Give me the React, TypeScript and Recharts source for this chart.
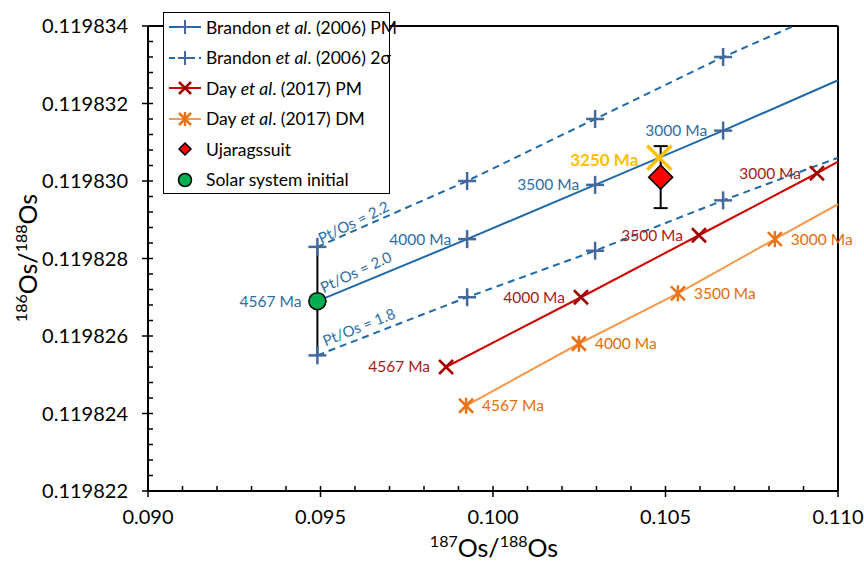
import React from 'react';
import { ScatterChart, Scatter, XAxis, YAxis, ErrorBar, ReferenceLine } from 'recharts';

const FONT = 'Lato, "Open Sans", sans-serif';

// model ages marked along each growth curve (last point = where the curve leaves the plot)
const AGES = ['4567 Ma', '4000 Ma', '3500 Ma', '3000 Ma'];

// Brandon et al. (2006) primitive mantle, Pt/Os = 2.0
const brandonPmX = [0.09491, 0.09925, 0.10296, 0.10667, 0.110];
const brandonPmY = [0.1198269, 0.1198285, 0.1198299, 0.1198313, 0.1198326];
// 2 sigma envelope, Pt/Os = 2.2
const brandonHiX = [0.09491, 0.09925, 0.10296, 0.10667, 0.110];
const brandonHiY = [0.1198283, 0.11983, 0.1198316, 0.1198332, 0.1198345];
// 2 sigma envelope, Pt/Os = 1.8
const brandonLoX = [0.09491, 0.09925, 0.10296, 0.10667, 0.110];
const brandonLoY = [0.1198255, 0.119827, 0.1198282, 0.1198295, 0.1198306];

// Day et al. (2017)
const dayPmX = [0.09864, 0.10255, 0.10597, 0.10939, 0.110];
const dayPmY = [0.1198252, 0.119827, 0.1198286, 0.1198302, 0.1198305];
const dayDmX = [0.09922, 0.10249, 0.10536, 0.10817, 0.110];
const dayDmY = [0.1198242, 0.1198258, 0.1198271, 0.1198285, 0.1198294];

// samples
const ujaragX = [0.10486];
const ujaragY = [0.1198301];
const ujaragErr = [0.0000008];
const modelX = [0.10482];
const modelY = [0.1198306];
const modelLabel = ['3250 Ma'];
const solarX = [0.09491];
const solarY = [0.1198269];
const solarErr = [0.0000014];

const X_MAJOR = [0.09, 0.095, 0.1, 0.105, 0.11];
const X_TICKS = [
  0.09, 0.091, 0.092, 0.093, 0.094, 0.095, 0.096, 0.097, 0.098, 0.099, 0.1,
  0.101, 0.102, 0.103, 0.104, 0.105, 0.106, 0.107, 0.108, 0.109, 0.11,
];
const Y_MAJOR = [0.119822, 0.119824, 0.119826, 0.119828, 0.11983, 0.119832, 0.119834];
const Y_TICKS = Y_MAJOR.flatMap((v, i) =>
  i < Y_MAJOR.length - 1 ? [0, 1, 2, 3, 4].map((k) => v + k * 0.0000004) : [v]
);

const BLUE = '#1F69A8';
const PLUS = '#44699C';
const BLUE_TXT = '#2E6DA4';
const RED = '#CC0000';
const XRED = '#A00000';
const RED_TXT = '#A51C1C';
const ORANGE = '#F79A4B';
const STAR = '#E8741A';
const ORANGE_TXT = '#E46C0A';

const toPoints = (xs: number[], ys: number[], labels: string[] = [], errs: number[] = []) =>
  xs.map((x, i) => ({ x, y: ys[i], label: labels[i], err: errs[i] }));

const isMajor = (v: number, majors: number[]) => majors.some((m) => Math.abs(m - v) < 1e-9);

const plus = (cx: number, cy: number, s = 9, w = 2.5) => (
  <g stroke={PLUS} strokeWidth={w}>
    <line x1={cx - s} x2={cx + s} y1={cy} y2={cy} />
    <line x1={cx} x2={cx} y1={cy - s} y2={cy + s} />
  </g>
);
const cross = (cx: number, cy: number, s = 7, color = XRED, w = 2.5) => (
  <g stroke={color} strokeWidth={w}>
    <line x1={cx - s} x2={cx + s} y1={cy - s} y2={cy + s} />
    <line x1={cx - s} x2={cx + s} y1={cy + s} y2={cy - s} />
  </g>
);
const star = (cx: number, cy: number, s = 7) => (
  <g stroke={STAR} strokeWidth={2.5}>
    <line x1={cx - s} x2={cx + s} y1={cy - s} y2={cy + s} />
    <line x1={cx - s} x2={cx + s} y1={cy + s} y2={cy - s} />
    <line x1={cx} x2={cx} y1={cy - s - 1} y2={cy + s + 1} />
  </g>
);
const diamond = (cx: number, cy: number, s = 12) => (
  <polygon
    points={`${cx},${cy - s} ${cx + s},${cy} ${cx},${cy + s} ${cx - s},${cy}`}
    fill="#FF0000"
    stroke="#000"
    strokeWidth={1.5}
  />
);
const circle = (cx: number, cy: number, r = 8.5) => (
  <circle cx={cx} cy={cy} r={r} fill="#00B050" stroke="#000" strokeWidth={1.5} />
);

type ShapeOpts = {
  marker: (cx: number, cy: number) => React.ReactNode;
  labelColor?: string;
  side?: 'left' | 'right';
  note?: { text: string; angle: number; dx: number; dy: number };
};

const seriesShape = (o: ShapeOpts) => (p: any) => {
  const { cx, cy, payload } = p;
  if (!payload || !payload.label) return <g />;
  const first = payload.label === AGES[0];
  return (
    <g>
      {o.marker(cx, cy)}
      {o.labelColor && (
        <text
          x={o.side === 'right' ? cx + 16 : cx - 16}
          y={cy}
          dy="0.35em"
          textAnchor={o.side === 'right' ? 'start' : 'end'}
          fill={o.labelColor}
          fontFamily={FONT}
          fontSize={15.5}
        >
          {payload.label}
        </text>
      )}
      {o.note && first && (
        <text
          x={cx + o.note.dx}
          y={cy + o.note.dy}
          transform={`rotate(${o.note.angle} ${cx + o.note.dx} ${cy + o.note.dy})`}
          fill={BLUE_TXT}
          fontFamily={FONT}
          fontSize={15}
        >
          {o.note.text}
        </text>
      )}
    </g>
  );
};

// tick renderer draws both the mark (inside; majors cross the axis) and the label
function XTick(p: any) {
  const x = Number(p.x);
  const y = Number(p.y);
  const major = isMajor(p.payload.value, X_MAJOR);
  return (
    <g>
      <rect x={x - 0.75} y={y - 5} width={1.5} height={major ? 11 : 5} fill="#000" />
      {major && (
        <text x={x} y={y + 33} textAnchor="middle" fontFamily={FONT} fontSize={20} fill="#000">
          {p.payload.value.toFixed(3)}
        </text>
      )}
    </g>
  );
}

function YTick(p: any) {
  const x = Number(p.x);
  const y = Number(p.y);
  const major = isMajor(p.payload.value, Y_MAJOR);
  return (
    <g>
      <rect x={major ? x - 6 : x} y={y - 0.75} width={major ? 11 : 5} height={1.5} fill="#000" />
      {major && (
        <text x={x - 20} y={y} dy="0.35em" textAnchor="end" fontFamily={FONT} fontSize={20} fill="#000">
          {p.payload.value.toFixed(6)}
        </text>
      )}
    </g>
  );
}

const XTitle = () => (
  <text x={494} y={557} textAnchor="middle" fontFamily={FONT} fill="#000">
    <tspan fontSize={16} dy={-10}>187</tspan>
    <tspan fontSize={25} dy={10}>Os/</tspan>
    <tspan fontSize={16} dy={-10}>188</tspan>
    <tspan fontSize={25} dy={10}>Os</tspan>
  </text>
);

const YTitle = () => (
  <text x={0} y={0} transform="translate(37 258) rotate(-90)" textAnchor="middle" fontFamily={FONT} fill="#000">
    <tspan fontSize={16} dy={-10}>186</tspan>
    <tspan fontSize={25} dy={10}>Os/</tspan>
    <tspan fontSize={16} dy={-10}>188</tspan>
    <tspan fontSize={25} dy={10}>Os</tspan>
  </text>
);

const legendRows: { name: React.ReactNode; sample: React.ReactNode }[] = [
  {
    name: <>Brandon <i>et al</i>. (2006) PM</>,
    sample: <><line x1={0} x2={32} y1={12} y2={12} stroke={BLUE} strokeWidth={2} />{plus(16, 12, 7, 2)}</>,
  },
  {
    name: <>Brandon <i>et al</i>. (2006) 2σ</>,
    sample: <><line x1={0} x2={32} y1={12} y2={12} stroke={BLUE} strokeWidth={2} strokeDasharray="6 4" />{plus(16, 12, 7, 2)}</>,
  },
  {
    name: <>Day <i>et al</i>. (2017) PM</>,
    sample: <><line x1={0} x2={32} y1={12} y2={12} stroke={RED} strokeWidth={2} />{cross(16, 12, 6)}</>,
  },
  {
    name: <>Day <i>et al</i>. (2017) DM</>,
    sample: <><line x1={0} x2={32} y1={12} y2={12} stroke={ORANGE} strokeWidth={2} />{star(16, 12, 6)}</>,
  },
  { name: <>Ujaragssuit</>, sample: diamond(16, 12, 6) },
  { name: <>Solar system initial</>, sample: circle(16, 12, 6.5) },
];

function LegendBox() {
  return (
    <div
      style={{
        position: 'absolute',
        left: 163,
        top: 12,
        width: 227,
        height: 182,
        boxSizing: 'border-box',
        border: '1.5px solid #000',
        background: '#fff',
        fontFamily: FONT,
        fontSize: 17.5,
        color: '#000',
      }}
    >
      {legendRows.map((r, i) => (
        <div
          key={i}
          style={{ position: 'absolute', left: 5, top: 2 + i * 30.5, height: 24, display: 'flex', alignItems: 'center' }}
        >
          <svg width={34} height={24} style={{ overflow: 'visible' }}>{r.sample}</svg>
          <span style={{ marginLeft: 3, whiteSpace: 'nowrap' }}>{r.name}</span>
        </div>
      ))}
    </div>
  );
}

export default function App() {
  return (
    <div style={{ position: 'absolute', left: 0, top: 0, width: 864, height: 567, background: '#fff' }}>
      <ScatterChart width={864} height={567} margin={{ top: 26, right: 26, bottom: 16, left: 48 }}>
        <XAxis
          dataKey="x"
          type="number"
          domain={[0.09, 0.11]}
          ticks={X_TICKS}
          interval={0}
          height={60}
          tickSize={0}
          tickMargin={0}
          tickLine={false}
          tick={XTick}
          axisLine={{ stroke: '#000', strokeWidth: 2 }}
        />
        <YAxis
          dataKey="y"
          type="number"
          domain={[0.119822, 0.119834]}
          ticks={Y_TICKS}
          interval={0}
          width={100}
          tickSize={0}
          tickMargin={0}
          tickLine={false}
          tick={YTick}
          axisLine={{ stroke: '#000', strokeWidth: 2 }}
        />
        <YAxis yAxisId="clip" dataKey="y" type="number" domain={[0.119822, 0.119834]} allowDataOverflow hide />

        <ReferenceLine x={0.11} stroke="#000" strokeWidth={2} />
        <ReferenceLine y={0.119834} stroke="#000" strokeWidth={2} />

        <Scatter
          yAxisId="clip"
          data={toPoints(brandonHiX, brandonHiY, AGES)}
          line={{ stroke: BLUE, strokeWidth: 2, strokeDasharray: '7 5' }}
          lineType="joint"
          shape={seriesShape({ marker: (cx, cy) => plus(cx, cy), note: { text: 'Pt/Os = 2.2', angle: -26, dx: 4, dy: -3 } })}
          isAnimationActive={false}
        />
        <Scatter
          data={toPoints(brandonLoX, brandonLoY, AGES)}
          line={{ stroke: BLUE, strokeWidth: 2, strokeDasharray: '7 5' }}
          lineType="joint"
          shape={seriesShape({ marker: (cx, cy) => plus(cx, cy), note: { text: 'Pt/Os = 1.8', angle: -22, dx: 8, dy: -9 } })}
          isAnimationActive={false}
        />
        <Scatter
          data={toPoints(brandonPmX, brandonPmY, AGES)}
          line={{ stroke: BLUE, strokeWidth: 2 }}
          lineType="joint"
          shape={seriesShape({
            marker: (cx, cy) => plus(cx, cy),
            labelColor: BLUE_TXT,
            side: 'left',
            note: { text: 'Pt/Os = 2.0', angle: -25, dx: 6, dy: -8 },
          })}
          isAnimationActive={false}
        />
        <Scatter
          data={toPoints(dayPmX, dayPmY, AGES)}
          line={{ stroke: RED, strokeWidth: 2 }}
          lineType="joint"
          shape={seriesShape({ marker: (cx, cy) => cross(cx, cy), labelColor: RED_TXT, side: 'left' })}
          isAnimationActive={false}
        />
        <Scatter
          data={toPoints(dayDmX, dayDmY, AGES)}
          line={{ stroke: ORANGE, strokeWidth: 2 }}
          lineType="joint"
          shape={seriesShape({ marker: (cx, cy) => star(cx, cy), labelColor: ORANGE_TXT, side: 'right' })}
          isAnimationActive={false}
        />
        <Scatter
          data={toPoints(solarX, solarY, ['solar'], solarErr)}
          shape={(p: any) => circle(p.cx, p.cy)}
          isAnimationActive={false}
        >
          <ErrorBar dataKey="err" direction="y" width={0} stroke="#000" strokeWidth={2} />
        </Scatter>
        <Scatter
          data={toPoints(ujaragX, ujaragY, ['Ujaragssuit'], ujaragErr)}
          shape={(p: any) => diamond(p.cx, p.cy)}
          isAnimationActive={false}
        >
          <ErrorBar dataKey="err" direction="y" width={7} stroke="#000" strokeWidth={2} />
        </Scatter>
        <Scatter
          data={toPoints(modelX, modelY, modelLabel)}
          shape={(p: any) => (
            <g>
              {cross(p.cx, p.cy, 12, '#FFC000', 3.5)}
              <text
                x={p.cx - 21}
                y={p.cy + 2}
                dy="0.35em"
                textAnchor="end"
                fill="#FFC000"
                fontFamily={FONT}
                fontSize={17}
                fontWeight="bold"
              >
                {p.payload.label}
              </text>
            </g>
          )}
          isAnimationActive={false}
        />
        <XTitle />
        <YTitle />
      </ScatterChart>
      <LegendBox />
    </div>
  );
}
